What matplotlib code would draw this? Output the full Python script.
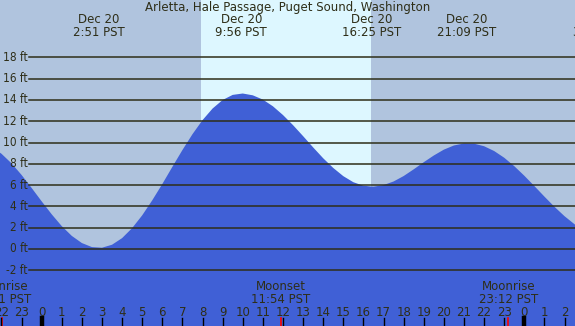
import numpy as np
import matplotlib
matplotlib.use("Agg")
import matplotlib.pyplot as plt

plt.rcParams['font.family'] = ['DejaVu Sans']

TITLE = "Arletta, Hale Passage, Puget Sound, Washington"

# tide height (ft), every half hour from 22:30 Dec 19 (hour -2.5) to 03:00 Dec 21 (hour 27)
hours = np.arange(-2.5, 27.5, 0.5)
heights = [9.59, 8.95, 8.05, 6.96, 5.74, 4.48, 3.26, 2.15, 1.23, 0.56, 0.18,
           0.12, 0.40, 1.02, 1.96, 3.16, 4.57, 6.10, 7.71, 9.29, 10.78, 12.10,
           13.19, 13.99, 14.47, 14.60, 14.43, 14.03, 13.40, 12.58, 11.63, 10.60,
           9.54, 8.52, 7.61, 6.84, 6.27, 5.94, 5.85, 6.00, 6.34, 6.85, 7.48,
           8.15, 8.78, 9.33, 9.72, 9.91, 9.89, 9.65, 9.20, 8.57, 7.78, 6.88,
           5.91, 4.92, 3.96, 3.08, 2.32, 1.73]

# high / low tide labels across the top
extreme_hours = [2.85, 9.93, 16.42, 21.15, 27.73]
extreme_labels = ["Dec 20\n2:51 PST", "Dec 20\n9:56 PST", "Dec 20\n16:25 PST",
                  "Dec 20\n21:09 PST", "Dec 21\n3:44 PST"]

# moon events along the bottom
moon_hours = [-1.98, 11.9, 23.2]
moon_labels = ["Moonrise\n22:01 PST", "Moonset\n11:54 PST", "Moonrise\n23:12 PST"]

sunrise, sunset = 7.93, 16.38
levels = [18, 16, 14, 12, 10, 8, 6, 4, 2, 0, -2]
hour_ticks = list(range(-2, 27))

W, H = 575, 326
NIGHT = '#b0c4de'
DAY = '#ddf7ff'
WATER = '#4060d6'
INK = '#2e2e18'
FS = 8.5

fig = plt.figure(figsize=(W / 100, H / 100), dpi=100)
ax = fig.add_axes([0, 0, 1, 1])
x0, x1 = -2.07, 26.52
ft_px = 10.65
ax.set_xlim(x0, x1)
ax.set_ylim(-(H - 249) / ft_px, 249 / ft_px)
ax.axis('off')

ax.axvspan(x0, sunrise, color=NIGHT, lw=0)
ax.axvspan(sunrise, sunset, color=DAY, lw=0)
ax.axvspan(sunset, x1, color=NIGHT, lw=0)

ax.fill_between(hours, heights, -20, color=WATER, lw=0)

def px(y):
    return 1 - y / H

xline = x0 + 29 / 575 * (x1 - x0)
for lv in levels:
    ax.plot([xline, x1], [lv, lv], color=INK, lw=1.1)
    ax.text(x0 + 27.5 / 575 * (x1 - x0), lv, f"{lv} ft", ha='right', va='center',
            fontsize=FS, color=INK, fontstretch='condensed')

trans = ax.get_xaxis_transform()
ax.text(0.5, px(7), TITLE, transform=ax.transAxes, ha='center', va='center',
        fontsize=FS, color=INK)
for h, lab in zip(extreme_hours, extreme_labels):
    ax.text(h, px(26), lab, transform=trans, ha='center', va='center',
            fontsize=FS, color=INK, linespacing=1.0, clip_on=False)

for h, lab in zip(moon_hours, moon_labels):
    ax.text(h, px(293), lab, transform=trans, ha='center', va='center',
            fontsize=FS, color=INK, linespacing=1.0)
    ax.plot([h, h], [px(318), 0], transform=trans, color='red', lw=1.2)

for h in hour_ticks:
    ax.text(h, px(312), str(h % 24), transform=trans, ha='center', va='center',
            fontsize=FS, color=INK)
    lw = 3.2 if h % 24 == 0 else 1.0
    ax.plot([h, h], [px(318), 0], transform=trans, color='black', lw=lw)

fig.savefig("out.png", dpi=100)
